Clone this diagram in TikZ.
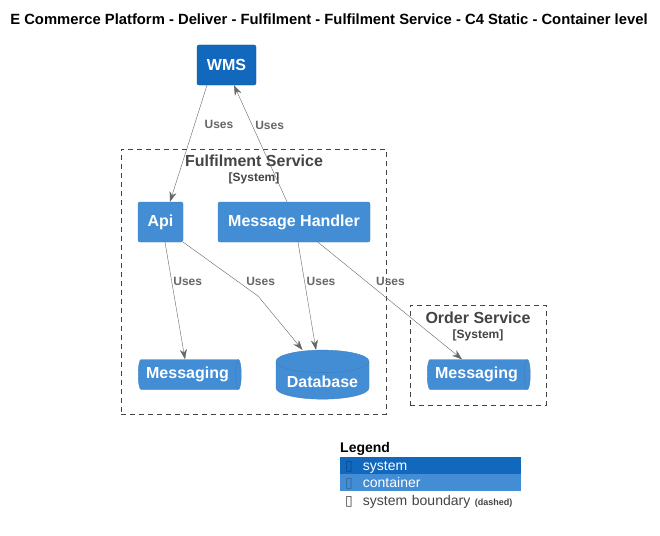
\documentclass[tikz,border=0pt]{standalone}
\usepackage{fontspec}
\setmainfont{Liberation Sans}
\newfontfamily\symfont{DejaVu Sans}
\usetikzlibrary{shapes.geometric,arrows.meta,positioning}
\definecolor{sysblue}{HTML}{1168BD}
\definecolor{contblue}{HTML}{438DD5}
\definecolor{contline}{HTML}{3C7FC0}
\definecolor{relgray}{HTML}{666666}
\definecolor{bndgray}{HTML}{444444}
\tikzset{
  sys/.style={rectangle,rounded corners=2pt,fill=sysblue,draw=sysblue!85!black,
    text=white,font=\fontsize{16}{18}\selectfont\bfseries,minimum height=40},
  cont/.style={rectangle,rounded corners=2pt,fill=contblue,draw=contline,
    text=white,font=\fontsize{16}{18}\selectfont\bfseries,minimum height=40},
  queue/.style={cylinder,fill=contblue,draw=contline,aspect=0.3,inner sep=2pt,
    text=white,font=\fontsize{16}{18}\selectfont\bfseries},
  bnd/.style={rectangle,draw=bndgray,dash pattern=on 5pt off 4pt},
  bndtitle/.style={text=bndgray,font=\fontsize{16}{18}\selectfont\bfseries},
  bndtag/.style={text=bndgray,font=\fontsize{12}{14}\selectfont\bfseries},
  uses/.style={draw=relgray,-{Stealth[length=10pt,width=7pt]}},
  lbl/.style={text=relgray,font=\fontsize{12}{14}\selectfont\bfseries,anchor=west,inner sep=0},
  lgrow/.style={anchor=west,minimum width=181,minimum height=17,inner sep=0,text depth=0pt,
    font=\fontsize{14}{16}\selectfont,align=left}
}
\newcommand{\tofu}{{\symfont\char"25AF}}
\begin{document}
\begin{tikzpicture}[x=1pt,y=-1pt]
  \useasboundingbox[fill=white] (0,0) rectangle (660,535);

  \node (title) at (329,19) [font=\fontsize{14.8}{16}\selectfont\bfseries]
    {E Commerce Platform - Deliver - Fulfilment - Fulfilment Service - C4 Static - Container level};

  % boundaries
  \node (fulfil) at (253.5,281.5) [bnd,minimum width=265,minimum height=265]{};
  \node (fultitle) at (254,161) [bndtitle]{Fulfilment Service};
  \node (fultag) at (254,178) [bndtag]{[System]};
  \node (order) at (478,355) [bnd,minimum width=136,minimum height=100]{};
  \node (ordtitle) at (478,318) [bndtitle]{Order Service};
  \node (ordtag) at (478,335) [bndtag]{[System]};

  % elements
  \node (wms) at (226.5,65) [sys,minimum width=59]{WMS};
  \node (api) at (160.5,222) [cont,minimum width=45]{Api};
  \node (mh) at (294,222) [cont,minimum width=152]{Message Handler};
  \node (msg) at (187.5,374.5) [queue,minimum height=103,minimum width=30]{Messaging};
  \node (db) at (322.5,382) [queue,shape border rotate=90,aspect=0.3,
    minimum width=93,minimum height=49]{Database};
  \node (omsg) at (476.5,374.5) [queue,minimum height=103,minimum width=30]{Messaging};
  \coordinate (bend) at (258,296);

  % relations
  \draw[uses] ([xshift=-19.5]wms.south) -- node[pos=0.34,lbl,xshift=10]{Uses} ([xshift=9.5]api.north);
  \draw[uses] ([xshift=-7]mh.north) -- node[pos=0.658,lbl,xshift=3]{Uses} ([xshift=7.5]wms.south);
  \draw[uses] ([xshift=4.5]api.south) -- node[pos=0.333,lbl,xshift=1.5]{Uses} ([xshift=-2.5]msg.north);
  \draw[uses] (api.south east) -- node[pos=0.72,lbl,xshift=9]{Uses} (bend) -- ([xshift=-20]db.north);
  \draw[uses] ([xshift=4]mh.south) -- node[pos=0.36,lbl,xshift=2]{Uses} ([xshift=-6.5]db.north);
  \draw[uses] ([xshift=24]mh.south) -- node[pos=0.333,lbl,xshift=10]{Uses} ([xshift=-14.5]omsg.north);

  % legend
  \node (lgd) at (340,449) [anchor=west,inner sep=0,font=\fontsize{14}{16}\selectfont\bfseries]{Legend};
  \node (lgsys) at (340,465.5) [lgrow,fill=sysblue,text=white,text width=181]
    {\hspace{5pt}{\color{sysblue!70!black}\tofu}\hspace{10pt}system};
  \node (lgcont) at (340,482.5) [lgrow,fill=contblue,text=white,text width=181]
    {\hspace{5pt}{\color{contline!80!black}\tofu}\hspace{10pt}container};
  \node (lgbnd) at (340,500.5) [lgrow,text=bndgray,text width=181]
    {\hspace{5pt}\tofu\hspace{10pt}system boundary {\fontsize{9}{10}\selectfont\bfseries(dashed)}};
\end{tikzpicture}
\end{document}
